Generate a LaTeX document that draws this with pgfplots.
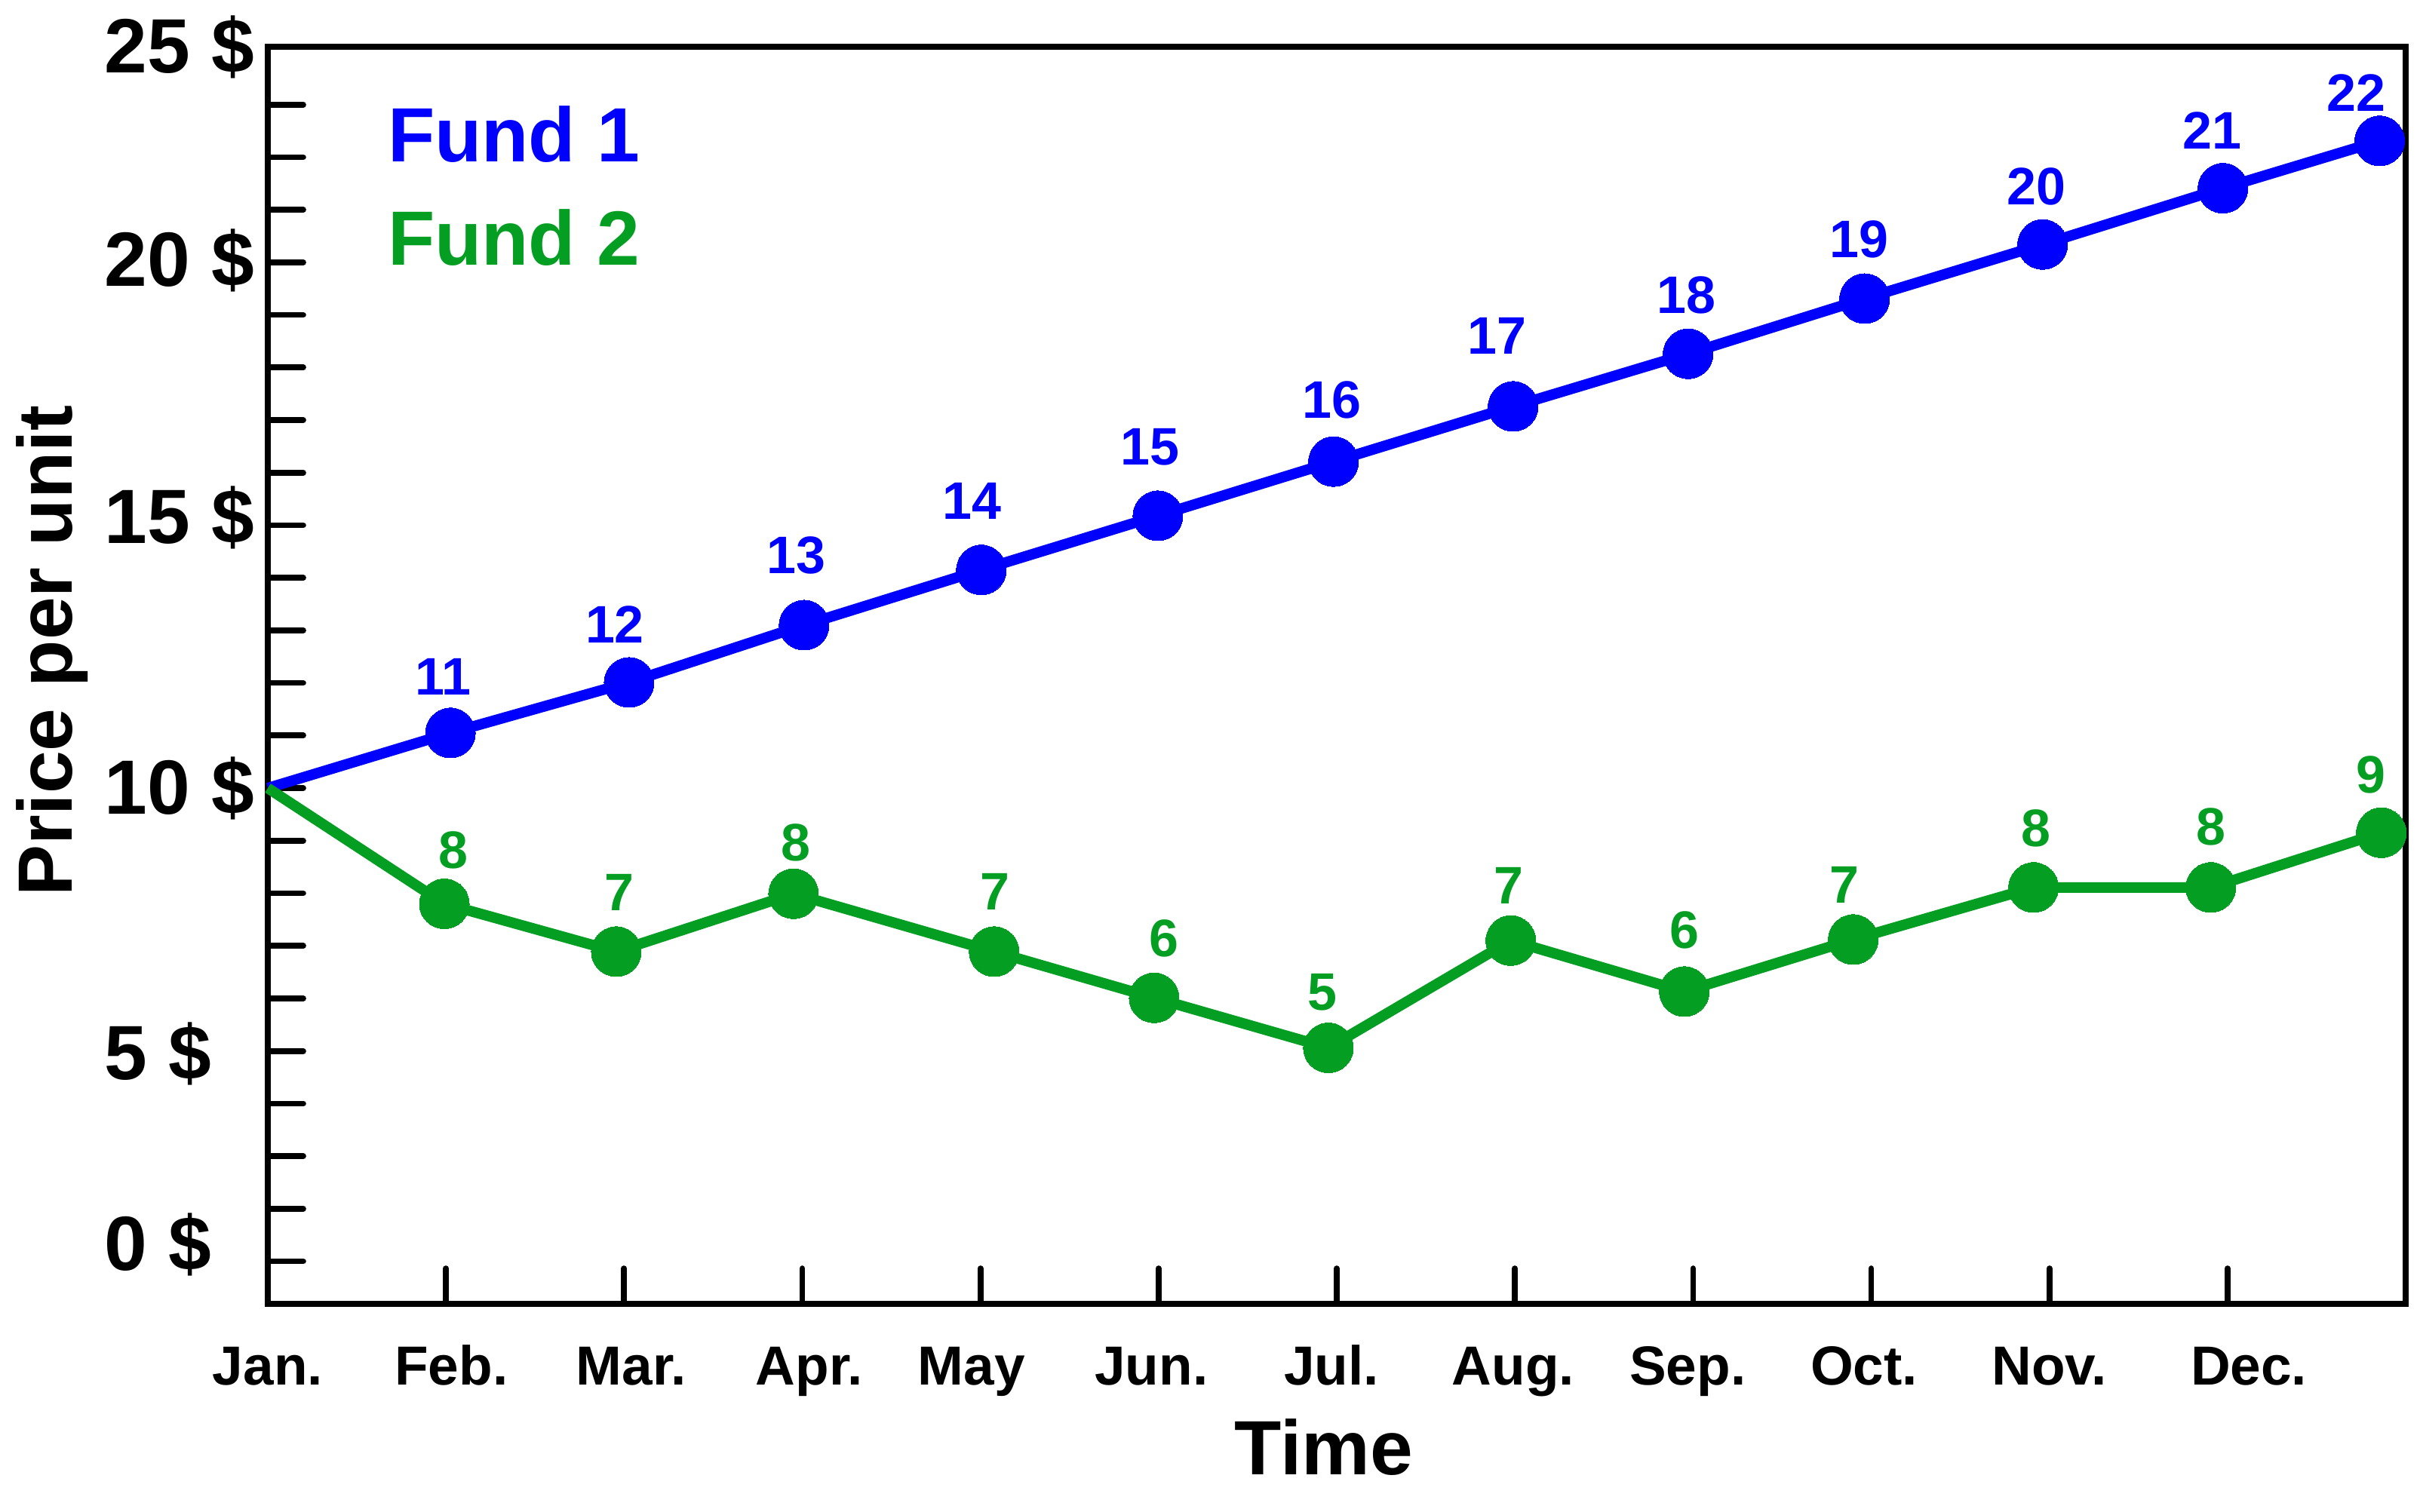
\documentclass[border=0pt]{standalone}
\usepackage{fontspec}
\setmainfont{Liberation Sans}
\usepackage{pgfplots}
\pgfplotsset{compat=1.18}
\definecolor{fundblue}{RGB}{0,0,255}
\definecolor{fundgreen}{RGB}{4,158,34}
\newcommand\bigfont{\fontsize{10.2pt}{12pt}\selectfont\bfseries}
\newcommand\monthfont{\fontsize{7.3pt}{9pt}\selectfont\bfseries}
\newcommand\valfont{\fontsize{7pt}{8pt}\selectfont\bfseries}

\pgfplotsset{
  fundline/.style={
    color=#1, line width=1.4pt,
    mark=*, mark size=3.3pt, mark repeat=1, mark phase=2,
    mark options={solid, fill=#1, draw=#1, line width=0pt},
    nodes near coords, point meta=explicit symbolic,
    visualization depends on={value \thisrow{dx}\as\labdx},
    visualization depends on={value \thisrow{dy}\as\labdy},
    every node near coord/.append style={font=\valfont, text=#1,
      anchor=center, inner sep=0pt, xshift=\labdx pt, yshift=\labdy pt},
  },
}

\begin{document}
\begin{tikzpicture}
\begin{axis}[
  scale only axis,
  width=283.4pt, height=166.7pt,
  xmin=0, xmax=12, ymin=0.19, ymax=24.10,
  clip=false,
  axis line style={line width=0.86pt, line cap=round},
  tick align=inside, tick pos=left,
  major tick length=4.7pt,
  tick style={line width=0.77pt, line cap=round, black},
  xtick={1,...,11}, xticklabels={},
  ytick={1,...,23}, yticklabels={},
  extra x ticks={0,1.03,2.04,3.04,3.95,4.96,5.97,6.99,7.97,8.96,10.0,11.12},
  extra x tick labels={Jan.,Feb.,Mar.,Apr.,May,Jun.,Jul.,Aug.,Sep.,Oct.,Nov.,Dec.},
  extra x tick style={major tick length=0pt},
  extra y ticks={1.31,4.95,10.0,15.14,20.03,24.10},
  extra y tick labels={0 \$,5 \$,10 \$,15 \$,20 \$,25 \$},
  extra y tick style={major tick length=0pt},
  xticklabel style={font=\monthfont, anchor=base, yshift=-10.7pt},
  yticklabel style={font=\bigfont, anchor=west, inner sep=0pt, xshift=-21.8pt},
  every axis x label/.style={at={([yshift=-22.6pt]axis description cs:0.494,0)}, anchor=base},
  every axis y label/.style={at={([xshift=-25.9pt]axis description cs:0,0.5195)}, rotate=90, anchor=base},
  xlabel={\bigfont Time},
  ylabel={\bigfont Price per unit},
  legend image code/.code={},
  legend cell align=left,
  legend style={at={(axis description cs:0.0554,0.9538)}, anchor=north west,
    draw=none, fill=none, inner sep=0pt, row sep=6.4pt, column sep=0pt,
    font=\bigfont, nodes={inner sep=0pt, text height=7.3pt, text depth=0pt}},
]
\addplot[fundline=fundblue] table[x=x, y=y, meta=lab] {
x      y     lab dx   dy
0      10.00 {}  0    0
1.025  11.05 11  -1.0 7.4
2.028  12.01 12  -1.9 7.7
3.010  13.10 13  -1.0 9.2
4.005  14.15 14  -1.2 9.1
4.996  15.18 15  -1.0 9.1
5.982  16.21 16  -0.2 8.2
6.990  17.26 17  -2.1 9.3
7.972  18.26 18  -0.2 7.8
8.963  19.31 19  -0.7 7.9
9.962  20.34 20  -0.8 7.7
10.974 21.41 21  -1.4 7.6
11.854 22.31 22  -3.1 6.4
};
\addlegendentry[text=fundblue]{Fund 1}
\addplot[fundline=fundgreen] table[x=x, y=y, meta=lab] {
x      y     lab dx   dy
0      10.00 {}  0    0
0.991  7.80  8   1.2  7.1
1.956  6.89  7   0.4  7.8
2.951  7.99  8   0.3  6.8
4.077  6.89  7   0.1  7.9
4.975  6.01  6   1.3  7.9
5.953  5.06  5  -0.8  7.4
6.977  7.10  7  -0.3  7.3
7.951  6.13  6   0.0  8.1
8.899  7.12  7  -1.2  7.2
9.911  8.11  8   0.3  7.8
10.906 8.11  8   0.0  8.0
11.863 9.15  9  -1.4  7.7
};
\addlegendentry[text=fundgreen]{Fund 2}
\end{axis}
\pgfresetboundingbox
\useasboundingbox (-35.5pt,-27.6pt) rectangle (285.3pt,172.9pt);
\end{tikzpicture}
\end{document}
